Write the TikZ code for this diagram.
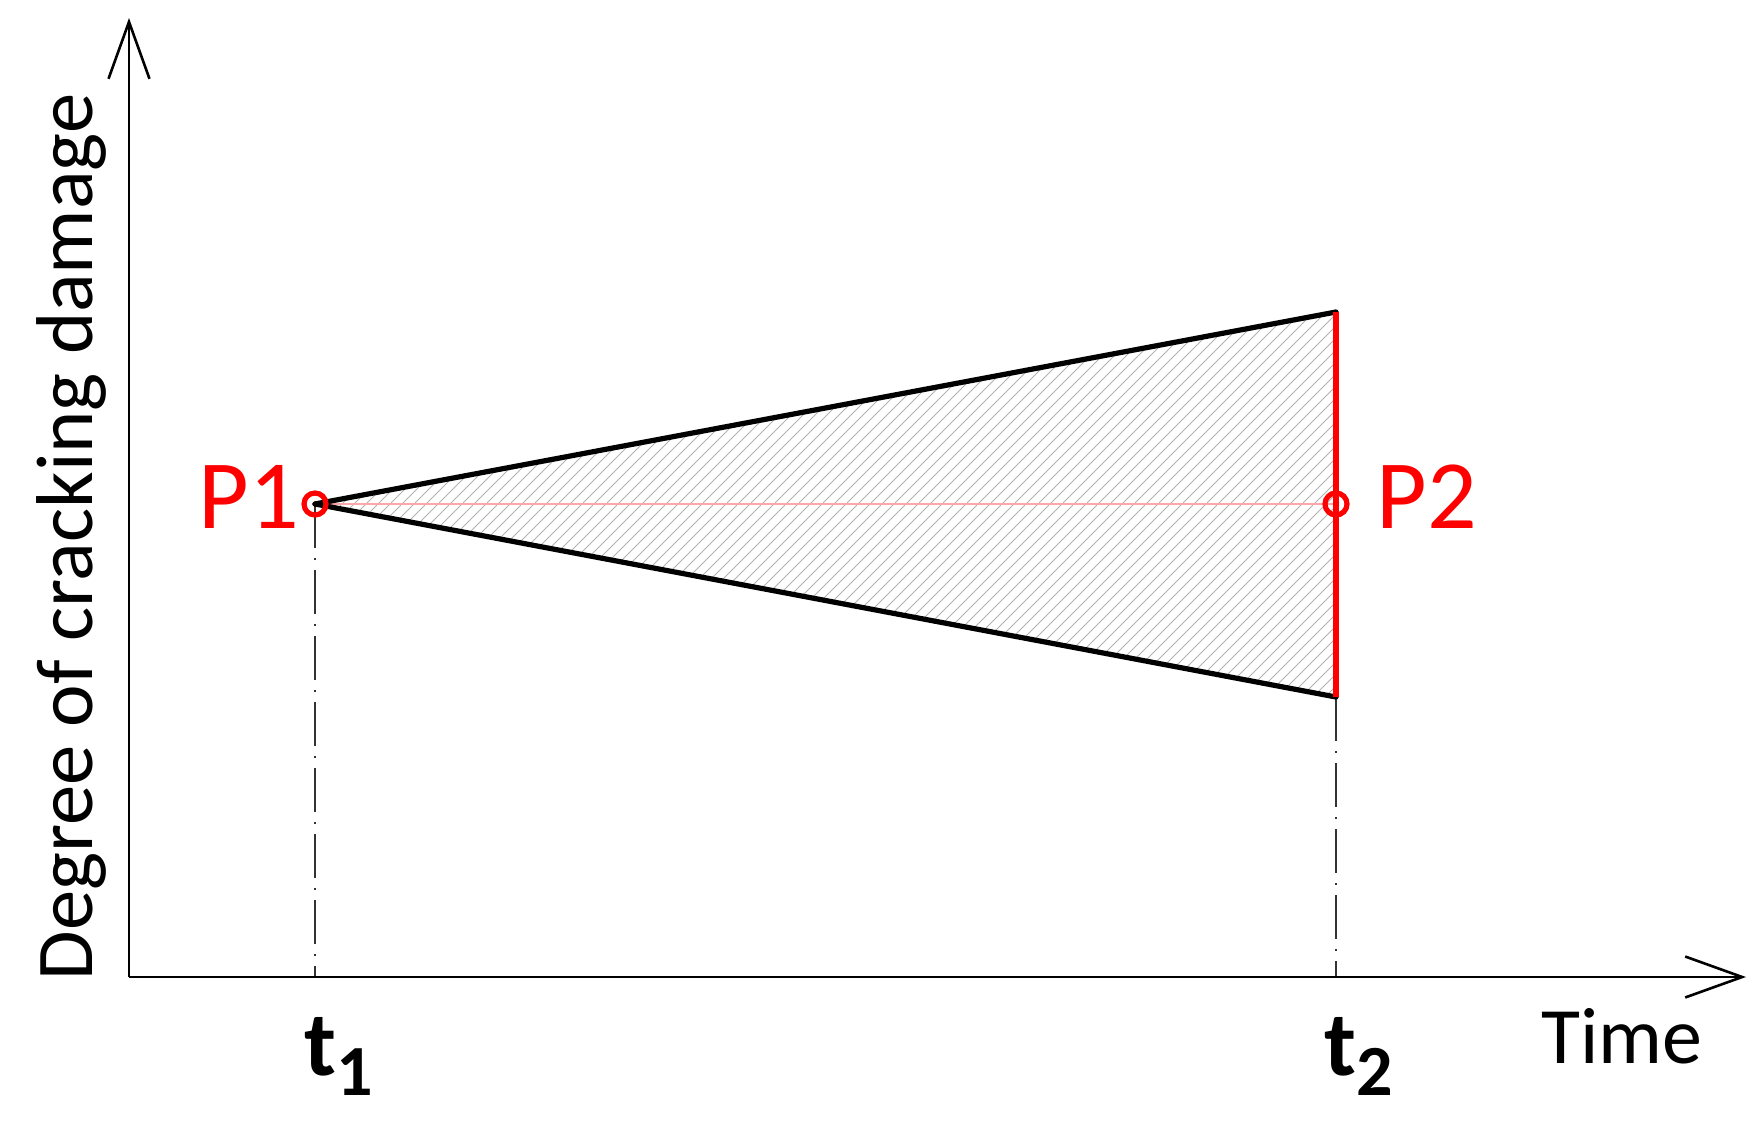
\documentclass[tikz,border=0pt]{standalone}
\usepackage{fontspec}
\setmainfont{Carlito}
\usetikzlibrary{arrows.meta}
\definecolor{pred}{RGB}{255,0,0}
\begin{document}
\begin{tikzpicture}[x=0.5pt,y=-0.5pt,
  axis/.style={line width=1.3pt,-{Straight Barb[length=28.5pt,width=20.5pt,line width=1.3pt]}},
  edge/.style={line width=2.6pt,line cap=round},
  redline/.style={pred,line width=3pt},
  guide/.style={line width=0.8pt,black!80,dash pattern=on 22pt off 5pt on 1pt off 5pt},
  lbl/.style={inner sep=0pt,font=\fontsize{49pt}{49pt}\selectfont,text=pred},
  tlbl/.style={inner sep=0pt,font=\bfseries\fontsize{46pt}{46pt}\selectfont},
  ring/.style={circle,draw=pred,line width=2.6pt,minimum size=11pt,inner sep=0pt}]
\useasboundingbox (0,0) rectangle (1764,1128);
\coordinate (O) at (129,977);
\coordinate (ytop) at (129,18);
\coordinate (xend) at (1746,977);
\coordinate (P1) at (315,504);
\coordinate (P2) at (1336,504);
\coordinate (U) at (1336,312);
\coordinate (L) at (1336,697);
\coordinate (t1a) at (315,977);
\coordinate (t2a) at (1336,977);
% hatch
\begin{scope}
  \clip (P1) -- (U) -- (L) -- cycle;
  \foreach \i in {0,...,140}{
    \draw[black!30,line width=0.45pt] (300+12*\i-450,720) -- ++(450,-450);
  }
\end{scope}
\draw[pred!35,line width=0.6pt] (P1) -- (P2);
% guides
\draw[guide] (P1) -- (t1a);
\draw[guide] (L) -- (t2a);
% axes
\draw[axis] (O) -- (ytop);
\draw[axis] (O) -- (xend);
% triangle
\draw[edge] (P1) -- (U);
\draw[edge] (P1) -- (L);
\draw[redline] (U) -- (L);
\node[ring] (r1) at (P1) {};
\node[ring] (r2) at (P2) {};
% labels
\node[lbl,anchor=base] (p1t) at (249,528) {P1};
\node[lbl,anchor=base] (p2t) at (1427,528) {P2};
\node[tlbl,anchor=base west] (t1) at (304,1075) {t\raisebox{-10pt}{\fontsize{36pt}{36pt}\selectfont 1}};
\node[tlbl,anchor=base west] (t2) at (1324,1075) {t\raisebox{-10pt}{\fontsize{36pt}{36pt}\selectfont 2}};
\node[inner sep=0pt,anchor=base west,font=\fontsize{40pt}{40pt}\selectfont] (time) at (1541,1063) {Time};
\node[inner sep=0pt,anchor=base,rotate=90,font=\fontsize{40.3pt}{40.3pt}\selectfont] (ylab) at (92,537) {Degree of cracking damage};
\end{tikzpicture}
\end{document}
